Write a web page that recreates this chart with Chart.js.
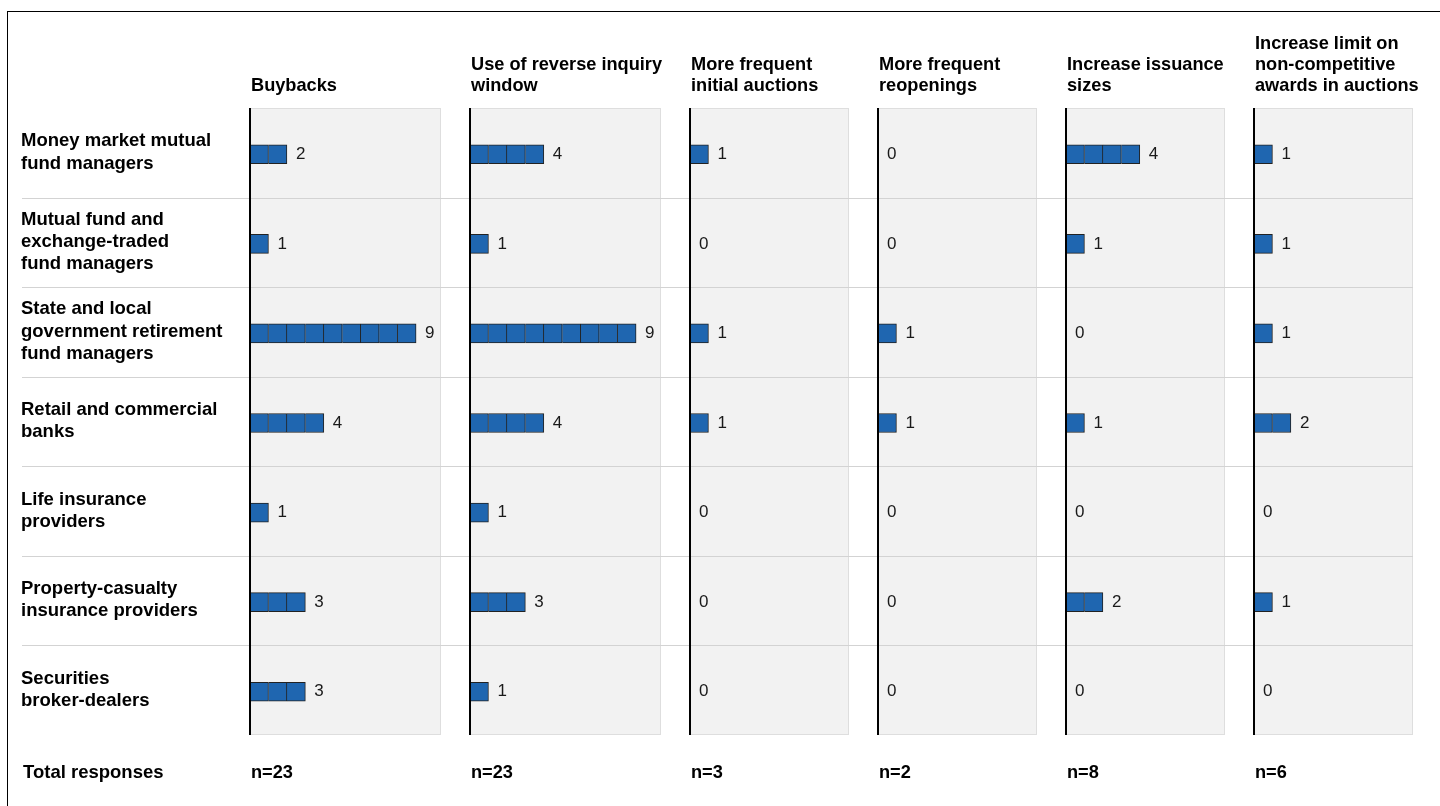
<!DOCTYPE html>
<html>
<head>
<meta charset="utf-8">
<script src="https://cdn.jsdelivr.net/npm/chart.js@4.4.1/dist/chart.umd.min.js"></script>
<style>
  html, body { margin: 0; padding: 0; background: #ffffff; width: 1440px; height: 806px; overflow: hidden; }
  #frame { position: absolute; left: 7px; top: 11px; width: 1440px; height: 800px; border-top: 1px solid #000; border-left: 1px solid #000; pointer-events: none; z-index: 5; }
  canvas { position: absolute; top: 12px; }
</style>
</head>
<body>
<div id="frame"></div>
<div id="charts"></div>
<script>
// ---- Data ----
const categories = [
  ["Money market mutual", "fund managers"],
  ["Mutual fund and", "exchange-traded", "fund managers"],
  ["State and local", "government retirement", "fund managers"],
  ["Retail and commercial", "banks"],
  ["Life insurance", "providers"],
  ["Property-casualty", "insurance providers"],
  ["Securities", "broker-dealers"]
];
const panelTitles = [
  ["Buybacks"],
  ["Use of reverse inquiry", "window"],
  ["More frequent", "initial auctions"],
  ["More frequent", "reopenings"],
  ["Increase issuance", "sizes"],
  ["Increase limit on", "non-competitive", "awards in auctions"]
];
const buybacks        = [2, 1, 9, 4, 1, 3, 3];
const reverseInquiry  = [4, 1, 9, 4, 1, 3, 1];
const initialAuctions = [1, 0, 1, 1, 0, 0, 0];
const reopenings      = [0, 0, 1, 1, 0, 0, 0];
const issuanceSizes   = [4, 1, 0, 1, 0, 2, 0];
const nonCompetitive  = [1, 1, 1, 2, 0, 1, 0];
const totalResponses  = [23, 23, 3, 2, 8, 6];
const totalLabel = "Total responses";

const seriesList = [buybacks, reverseInquiry, initialAuctions, reopenings, issuanceSizes, nonCompetitive];

// ---- Layout (page pixels) ----
const axisX   = [250, 470, 690, 878, 1066, 1254];
const bgRight = [441, 661, 849, 1037, 1225, 1413];
const xMax    = [10.35, 10.35, 8.62, 8.62, 8.62, 8.62];
const CANVAS_TOP = 12, CANVAS_H = 794;
const BG_TOP = 108, BG_BOTTOM = 735;   // grey panel extent
const SHIFT = 1.5;                      // marks sit slightly below row centre
const FONT = "'Liberation Sans', Arial, Helvetica, sans-serif";
const BLUE = '#1f66b0';

const panelPlugin = {
  id: 'panelDeco',
  beforeDatasetsDraw(chart) {
    const o = chart.options.plugins.panelDeco;
    const {ctx, chartArea: a} = chart;
    const y = chart.scales.y;
    const top = BG_TOP - CANVAS_TOP, bottom = BG_BOTTOM - CANVAS_TOP;
    ctx.save();
    ctx.fillStyle = '#f2f2f2';
    ctx.fillRect(a.left, top, a.right - a.left, bottom - top);
    ctx.strokeStyle = '#dedede';
    ctx.lineWidth = 1;
    ctx.strokeRect(a.left + 0.5, top + 0.5, a.right - a.left - 1, bottom - top - 1);
    // row separators
    ctx.strokeStyle = '#d3d3d3';
    ctx.lineWidth = 1;
    const x0 = o.first ? 14 : 0;
    const x1 = o.last ? a.right : chart.width;
    for (let j = 0; j < categories.length - 1; j++) {
      const yy = Math.round((y.getPixelForValue(j) + y.getPixelForValue(j + 1)) / 2 - SHIFT) + 0.5;
      ctx.beginPath();
      ctx.moveTo(x0, yy);
      ctx.lineTo(x1, yy);
      ctx.stroke();
    }
    ctx.restore();
  },
  afterDatasetsDraw(chart) {
    const o = chart.options.plugins.panelDeco;
    const {ctx, chartArea: a} = chart;
    const x = chart.scales.x, y = chart.scales.y;
    ctx.save();
    // axis line
    ctx.strokeStyle = '#000';
    ctx.lineWidth = 2;
    ctx.beginPath();
    ctx.moveTo(a.left, BG_TOP - CANVAS_TOP);
    ctx.lineTo(a.left, BG_BOTTOM - CANVAS_TOP);
    ctx.stroke();
    // value labels
    ctx.fillStyle = '#1a1a1a';
    ctx.font = '17px ' + FONT;
    ctx.textAlign = 'left';
    ctx.textBaseline = 'middle';
    o.values.forEach((v, j) => {
      ctx.fillText(String(v), x.getPixelForValue(v) + 9, y.getPixelForValue(j));
    });
    // header
    ctx.fillStyle = '#000';
    ctx.font = 'bold 18.2px ' + FONT;
    const lines = o.title;
    const lastY = 85.5 - CANVAS_TOP;
    lines.forEach((t, k) => {
      ctx.fillText(t, a.left + 1, lastY - (lines.length - 1 - k) * 20.7);
    });
    // total
    ctx.fillText('n=' + o.total, a.left + 1, 773 - CANVAS_TOP);
    if (o.first) {
      ctx.font = 'bold 18.5px ' + FONT;
      const offX = o.canvasLeft;
      categories.forEach((lab, j) => {
        const cy = y.getPixelForValue(j) - SHIFT - 0.5;
        const lh = 22.3;
        lab.forEach((t, k) => {
          ctx.fillText(t, 21 - offX, cy + (k - (lab.length - 1) / 2) * lh);
        });
      });
      ctx.fillText(totalLabel, 23 - offX, 773 - CANVAS_TOP);
    }
    ctx.restore();
  }
};

const holder = document.getElementById('charts');
seriesList.forEach((counts, i) => {
  const isLast = i === seriesList.length - 1;
  const canvasLeft = i === 0 ? 8 : bgRight[i - 1] + 2;
  const canvasRight = isLast ? 1440 : axisX[i + 1] - 3;
  const cv = document.createElement('canvas');
  cv.width = canvasRight - canvasLeft;
  cv.height = CANVAS_H;
  cv.style.left = canvasLeft + 'px';
  cv.style.width = (canvasRight - canvasLeft) + 'px';
  cv.style.height = CANVAS_H + 'px';
  holder.appendChild(cv);

  const maxUnits = Math.max(...counts);
  const datasets = [];
  for (let k = 0; k < maxUnits; k++) {
    datasets.push({
      data: counts.map(c => (c > k ? 1 : null)),
      backgroundColor: BLUE,
      borderColor: '#222222',
      borderWidth: {top: 1, right: 1, bottom: 1, left: k === 0 ? 1 : 0},
      borderSkipped: false,
      barThickness: 19
    });
  }

  new Chart(cv, {
    type: 'bar',
    data: { labels: categories.map(c => c.join(' ')), datasets },
    options: {
      indexAxis: 'y',
      responsive: false,
      animation: false,
      devicePixelRatio: 1,
      layout: { padding: {
        left: axisX[i] - canvasLeft,
        right: canvasRight - bgRight[i],
        top: BG_TOP + SHIFT - CANVAS_TOP,
        bottom: CANVAS_TOP + CANVAS_H - (BG_BOTTOM + SHIFT)
      } },
      scales: {
        x: { stacked: true, min: 0, max: xMax[i], display: false },
        y: { stacked: true, display: false, offset: true }
      },
      plugins: {
        legend: { display: false },
        tooltip: { enabled: false },
        panelDeco: {
          first: i === 0,
          last: isLast,
          canvasLeft,
          values: counts,
          title: panelTitles[i],
          total: totalResponses[i]
        }
      }
    },
    plugins: [panelPlugin]
  });
});
</script>
</body>
</html>
